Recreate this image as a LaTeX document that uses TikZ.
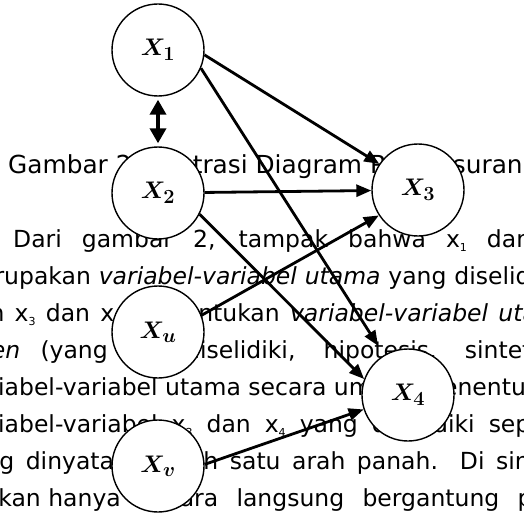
\RequirePackage{fix-cm}
\documentclass[tikz,border=0pt]{standalone}
\usepackage{amsmath,bm}
\usepackage[no-math]{fontspec}
\newfontfamily\bodyfont{DejaVu Sans}
\usetikzlibrary{arrows.meta}
\DeclareMathSizes{24}{24}{20}{15}
\newcommand{\lowidx}[1]{\raisebox{-4pt}{\fontsize{11}{11}\selectfont #1}}
\tikzset{
  bodyline/.style={anchor=base west, inner sep=0pt, font=\bodyfont\fontsize{23.5}{23.5}\selectfont},
  bodyleft/.style={bodyline, anchor=base east},
  capline/.style={bodyline, font=\bodyfont\fontsize{24.8}{24.8}\selectfont},
  vnode/.style={circle, draw=black, fill=white, line width=1.4pt, minimum size=92pt,
                inner sep=0pt, font=\fontsize{24}{24}\selectfont},
  parrow/.style={line width=2.8pt, -{Triangle[length=15pt,width=12pt]}},
  corr/.style={line width=3.6pt, {Triangle[length=15pt,width=16pt]}-{Triangle[length=15pt,width=16pt]},
               shorten <=3pt, shorten >=3pt},
}
\begin{document}
\begin{tikzpicture}[x=1pt,y=-1pt]
  \useasboundingbox (0,0) rectangle (524,513);
  % teks halaman di belakang diagram
  \begin{scope}
    \clip (0,0) rectangle (524,513);
    \node[capline] (cap) at (8,173) {Gambar 2. Ilustrasi Diagram Penelusuran};
    \node[bodyline] (l1) at (13,247) {\makebox[518pt][s]{Dari gambar 2, tampak bahwa x\lowidx{1} dan}};
    \node[bodyline] (l2) at (-43,284) {\makebox[600pt][s]{merupakan \textit{variabel-variabel utama} yang diselidiki}};
    \node[bodyline] (l3) at (-40,321) {\makebox[614pt][s]{dan x\lowidx{3} dan x\lowidx{4} menentukan \textit{variabel-variabel utama}}};
    \node[bodyleft] (l4a) at (108,358) {\makebox[227pt][s]{\textit{independen} (yang}};
    \node[bodyline] (l4b) at (185,358) {\makebox[365pt][s]{diselidiki, hipotesis, sintetis}};
    \node[bodyline] (l5a) at (-40,395) {variabel-variabel utama secara umum};
    \node[bodyline] (l5b) at (420,395) {menentukan};
    \node[bodyline] (l6) at (-40,432) {\makebox[610pt][s]{variabel-variabel x\lowidx{3} dan x\lowidx{4} yang diselidiki seperti}};
    \node[bodyline] (l7) at (-44,469) {\makebox[580pt][s]{yang dinyatakan oleh satu arah panah. Di sini}};
    \node[bodyleft] (l8a) at (121,506) {ditentukan hanya};
    \node[bodyline] (l8b) at (140,506) {\makebox[436pt][s]{secara langsung bergantung pada}};
  \end{scope}
  % variabel
  \node[vnode] (x1) at (158,50) {$\bm{X_1}$};
  \node[vnode] (x2) at (158,193) {$\bm{X_2}$};
  \node[vnode] (x3) at (418,190) {$\bm{X_3}$};
  \node[vnode] (xu) at (158,332) {$\bm{X_u}$};
  \node[vnode] (x4) at (408,395) {$\bm{X_4}$};
  \node[vnode] (xv) at (158,466) {$\bm{X_v}$};
  % panah
  \draw[corr] (x1) -- (x2);
  \draw[parrow] (x1.-6) -- (x3.146);
  \draw[parrow, shorten >=11pt] (x1.-23) -- (x4.121);
  \draw[parrow] (x2) -- (x3);
  \draw[parrow] (x2.-27) -- (x4.160);
  \draw[parrow] (xu.21) -- (x3.213);
  \draw[parrow] (xv.2) -- (x4.198);
\end{tikzpicture}
\end{document}
